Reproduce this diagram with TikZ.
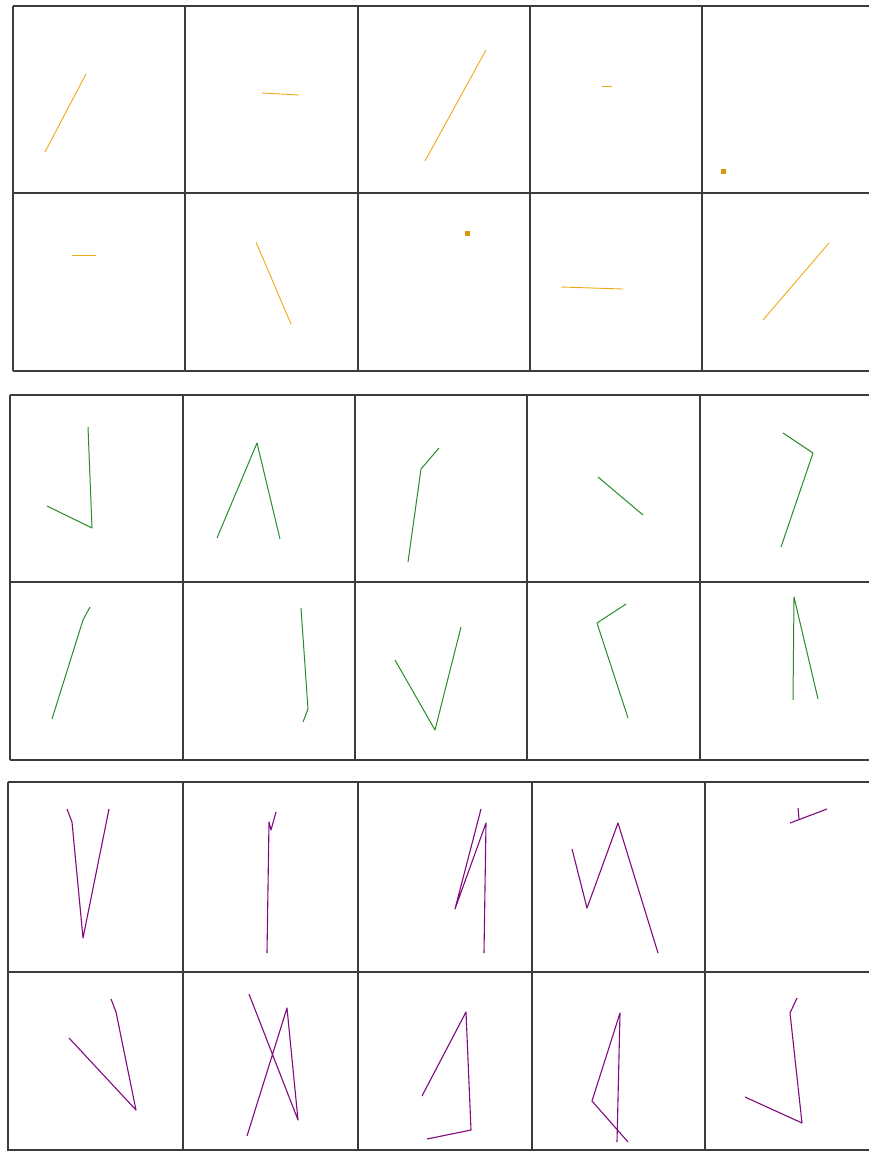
\documentclass[tikz,border=0pt]{standalone}
\definecolor{orl}{RGB}{240,170,20}
\definecolor{grl}{RGB}{40,140,40}
\definecolor{pul}{RGB}{128,10,128}
\definecolor{gridc}{RGB}{60,60,60}
\tikzset{
  gridline/.style={draw=gridc,line width=1.2pt},
  oseg/.style={draw=orl,line width=0.9pt},
  gseg/.style={draw=grl,line width=1pt,line join=round},
  pseg/.style={draw=pul,line width=1.1pt,line join=round},
  odot/.style={fill=orl!90!black,minimum size=5pt,inner sep=0pt,draw=none,rectangle}
}
\begin{document}
\begin{tikzpicture}[x=1pt,y=-1pt]
\useasboundingbox (0,0) rectangle (868,1151);
\fill[white] (0,0) rectangle (868,1151);
% ---- panel 1 grid
\draw[gridline] (13,6) -- (870,6);
\draw[gridline] (13,193) -- (870,193);
\draw[gridline] (13,371) -- (870,371);
\foreach \x in {13,185,358,530,702} \draw[gridline] (\x,6) -- (\x,371);
% ---- panel 2 grid
\draw[gridline] (10,395) -- (870,395);
\draw[gridline] (10,582) -- (870,582);
\draw[gridline] (10,760) -- (870,760);
\foreach \x in {10,183,355,527,700} \draw[gridline] (\x,395) -- (\x,760);
% ---- panel 3 grid
\draw[gridline] (8,782) -- (870,782);
\draw[gridline] (8,972) -- (870,972);
\draw[gridline] (8,1150) -- (870,1150);
\foreach \x in {8,183,358,532,705} \draw[gridline] (\x,782) -- (\x,1152);
% ---- orange
\draw[oseg] (45,152) -- (86,74);
\draw[oseg] (262,93) -- (299,95);
\draw[oseg] (425,161) -- (486,50);
\draw[oseg] (602,86) -- (612,86);
\node[odot] (s1) at (723,171) {};
\draw[oseg] (72,255) -- (96,255);
\draw[oseg] (256,242) -- (291,324);
\node[odot] (s2) at (467,233) {};
\draw[oseg] (561,287) -- (623,289);
\draw[oseg] (763,320) -- (829,243);
% ---- green
\draw[gseg] (47,506) -- (92,528) -- (88,427);
\draw[gseg] (217,538) -- (257,443) -- (280,539);
\draw[gseg] (408,562) -- (421,469) -- (439,448);
\draw[gseg] (598,477) -- (643,515);
\draw[gseg] (783,433) -- (813,453) -- (781,547);
\draw[gseg] (52,719) -- (83,620) -- (90,607);
\draw[gseg] (301,608) -- (308,709) -- (303,722);
\draw[gseg] (395,660) -- (435,730) -- (461,627);
\draw[gseg] (626,604) -- (597,623) -- (628,718);
\draw[gseg] (793,700) -- (794,597) -- (818,699);
% ---- purple
\draw[pseg] (67,809) -- (72,822) -- (83,938) -- (109,809);
\draw[pseg] (267,953) -- (269,822) -- (271,830) -- (276,812);
\draw[pseg] (484,953) -- (486,823) -- (455,909) -- (481,809);
\draw[pseg] (572,849) -- (587,908) -- (618,823) -- (658,953);
\draw[pseg] (790,823) -- (827,809);
\draw[pseg] (798,808) -- (799,819);
\draw[pseg] (69,1038) -- (136,1110) -- (116,1012) -- (111,999);
\draw[pseg] (249,994) -- (298,1120) -- (287,1008) -- (247,1136);
\draw[pseg] (422,1096) -- (466,1012) -- (471,1130) -- (427,1139);
\draw[pseg] (617,1142) -- (620,1013) -- (592,1101) -- (628,1142);
\draw[pseg] (745,1097) -- (802,1123) -- (790,1013) -- (797,998);
\end{tikzpicture}
\end{document}
